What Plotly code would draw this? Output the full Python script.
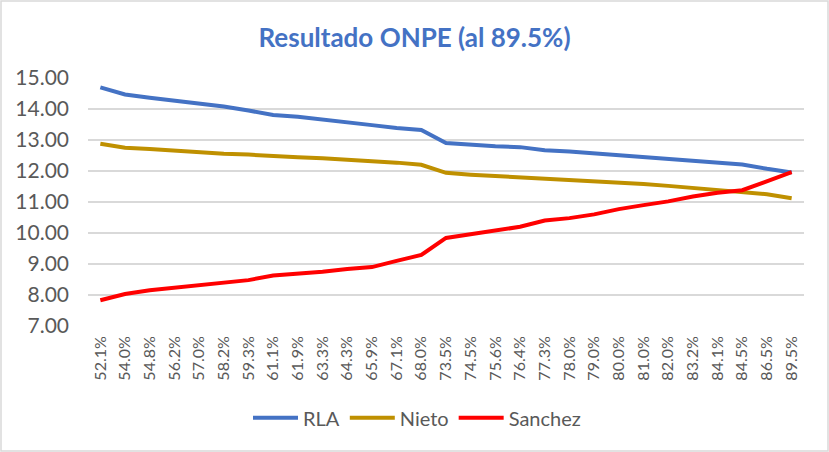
import plotly.graph_objects as go

categories = ["52.1%", "54.0%", "54.8%", "56.2%", "57.0%", "58.2%", "59.3%", "61.1%",
              "61.9%", "63.3%", "64.3%", "65.9%", "67.1%", "68.0%", "73.5%", "74.5%",
              "75.6%", "76.4%", "77.3%", "78.0%", "79.0%", "80.0%", "81.0%", "82.0%",
              "83.2%", "84.1%", "84.5%", "86.5%", "89.5%"]

rla = [14.70, 14.47, 14.36, 14.27, 14.18, 14.08, 13.95, 13.81, 13.75, 13.65, 13.55,
       13.48, 13.39, 13.32, 12.90, 12.84, 12.80, 12.77, 12.67, 12.63, 12.57, 12.51,
       12.45, 12.38, 12.31, 12.25, 12.21, 12.07, 11.95]

nieto = [12.88, 12.75, 12.71, 12.65, 12.62, 12.56, 12.53, 12.47, 12.44, 12.41, 12.37,
         12.33, 12.27, 12.20, 11.94, 11.88, 11.84, 11.81, 11.75, 11.72, 11.68, 11.62,
         11.58, 11.52, 11.45, 11.39, 11.34, 11.25, 11.12]

sanchez = [7.83, 8.03, 8.15, 8.23, 8.29, 8.39, 8.48, 8.63, 8.68, 8.75, 8.84, 8.90,
           9.10, 9.29, 9.84, 9.97, 10.08, 10.20, 10.40, 10.48, 10.60, 10.77, 10.90,
           11.02, 11.18, 11.30, 11.38, 11.67, 11.96]

series = [("RLA", rla, "#4472C4"), ("Nieto", nieto, "#BF9000"), ("Sanchez", sanchez, "#FF0000")]

fig = go.Figure()
for name, vals, color in series:
    fig.add_trace(go.Scatter(x=categories, y=vals, name=name, mode="lines",
                             line=dict(color=color, width=4)))

fig.update_layout(
    width=829, height=452,
    paper_bgcolor="white", plot_bgcolor="white",
    margin=dict(l=88, r=25, t=78, b=126),
    font=dict(family="Lato, Open Sans, sans-serif", color="#595959"),
    title=dict(text="<b>Resultado ONPE (al 89.5%)</b>", x=0.5, xanchor="center",
               y=1 - 38 / 452, yanchor="middle",
               font=dict(size=26, color="#4472C4", family="Lato, Open Sans, sans-serif")),
    showlegend=True,
    legend=dict(orientation="h", x=(417 - 88) / 716, xanchor="center", y=-0.37, yanchor="middle",
                font=dict(size=20, color="#595959"), itemwidth=45, tracegroupgap=0),
    xaxis=dict(type="category", range=[-0.5, len(categories) - 0.5], tickangle=-90,
               tickfont=dict(size=16, color="#595959"), ticklabelstandoff=6,
               showgrid=False, showline=False, ticks="", zeroline=False),
    yaxis=dict(range=[7, 15], dtick=1, tickformat=".2f", showgrid=True,
               gridcolor="#D9D9D9", gridwidth=1.5, zeroline=False, showline=False,
               tickfont=dict(size=21, color="#595959"), ticks="", ticklabelstandoff=18),
)

fig.add_shape(type="rect", xref="paper", yref="paper", x0=-87 / 716, x1=1 + 24 / 716,
              y0=-125 / 248, y1=1 + 77 / 248, line=dict(color="#D9D9D9", width=1.5))

fig.write_html("out.html", config={"displayModeBar": False},
               post_script="document.body.style.margin='0';")
